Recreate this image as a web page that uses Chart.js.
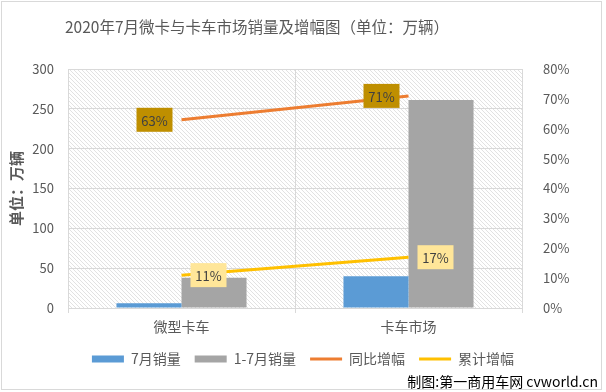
<!DOCTYPE html>
<html>
<head>
<meta charset="utf-8">
<script src="https://cdn.jsdelivr.net/npm/chart.js@4/dist/chart.umd.min.js"></script>
<style>
  html, body { margin: 0; padding: 0; background: #fff; }
  #wrap { width: 606px; height: 392px; }
</style>
</head>
<body>
<div id="wrap"><canvas id="chart" width="606" height="392"></canvas></div>
<script>
// 数据
const categories = ['微型卡车', '卡车市场'];
const julySales = [6, 40];
const ytdSales = [38, 261];
const yoyGrowth = [63, 71];
const ytdGrowth = [11, 17];
const leftTicks = [0, 50, 100, 150, 200, 250, 300];
const rightTicks = [0, 10, 20, 30, 40, 50, 60, 70, 80];

const FONT = "'Noto Sans CJK SC', 'Noto Sans', sans-serif";
const GREY_TEXT = '#595959';

// 斜线填充的绘图区
function makeHatch() {
  const c = document.createElement('canvas');
  c.width = 4; c.height = 4;
  const g = c.getContext('2d');
  g.fillStyle = '#ffffff';
  g.fillRect(0, 0, 4, 4);
  g.strokeStyle = '#e2e2e2';
  g.lineWidth = 1;
  g.beginPath();
  g.moveTo(-1, -1); g.lineTo(5, 5);
  g.moveTo(-1, 3); g.lineTo(1, 5);
  g.moveTo(3, -1); g.lineTo(5, 1);
  g.stroke();
  return g.createPattern(c, 'repeat');
}

const backgroundPlugin = {
  id: 'bg',
  beforeDraw(chart) {
    const { ctx, chartArea: a } = chart;
    ctx.save();
    ctx.fillStyle = '#ffffff';
    ctx.fillRect(0, 0, chart.width, chart.height);
    ctx.strokeStyle = '#d9d9d9';
    ctx.lineWidth = 1;
    ctx.strokeRect(1.5, 1.5, 600, 388);
    ctx.fillStyle = makeHatch();
    ctx.fillRect(a.left, a.top, a.right - a.left, a.bottom - a.top);
    ctx.restore();
  },
  afterDraw(chart) {
    const { ctx } = chart;
    ctx.save();
    ctx.fillStyle = GREY_TEXT;
    ctx.textBaseline = 'middle';
    ctx.textAlign = 'center';
    ctx.font = '15.5px ' + FONT;
    ctx.fillText('2020年7月微卡与卡车市场销量及增幅图（单位：万辆）', 257, 27);
    ctx.fillStyle = '#000000';
    ctx.textAlign = 'right';
    ctx.font = '14px ' + FONT;
    ctx.fillText('制图:第一商用车网 cvworld.cn', 598, 382);
    ctx.restore();
  }
};

// 折线数据标签
const labelPlugin = {
  id: 'pctLabels',
  afterDatasetsDraw(chart) {
    const { ctx } = chart;
    const specs = [
      { ds: 2, side: 'left', bg: '#bf8f00' },
      { ds: 3, side: 'right', bg: '#ffe699' }
    ];
    ctx.save();
    ctx.font = '13px ' + FONT;
    ctx.textAlign = 'center';
    ctx.textBaseline = 'middle';
    specs.forEach(s => {
      const meta = chart.getDatasetMeta(s.ds);
      const vals = chart.data.datasets[s.ds].data;
      meta.data.forEach((pt, i) => {
        const w = 36, h = 24;
        const x = s.side === 'left' ? pt.x - 9 - w : pt.x + 9;
        const y = pt.y - h / 2;
        ctx.fillStyle = s.bg;
        ctx.fillRect(x, y, w, h);
        ctx.fillStyle = '#404040';
        ctx.fillText(vals[i] + '%', x + w / 2, pt.y + 1);
      });
    });
    ctx.restore();
  }
};

new Chart(document.getElementById('chart'), {
  data: {
    labels: categories,
    datasets: [
      { type: 'bar', label: '7月销量', data: julySales, backgroundColor: '#5b9bd5', yAxisID: 'y', order: 2,
        categoryPercentage: 0.573, barPercentage: 1 },
      { type: 'bar', label: '1-7月销量', data: ytdSales, backgroundColor: '#a5a5a5', yAxisID: 'y', order: 2,
        categoryPercentage: 0.573, barPercentage: 1 },
      { type: 'line', label: '同比增幅', data: yoyGrowth, borderColor: '#ed7d31', backgroundColor: '#ed7d31',
        borderWidth: 3, pointRadius: 0, yAxisID: 'y1', order: 1 },
      { type: 'line', label: '累计增幅', data: ytdGrowth, borderColor: '#ffc000', backgroundColor: '#ffc000',
        borderWidth: 3, pointRadius: 0, yAxisID: 'y1', order: 1 }
    ]
  },
  options: {
    responsive: false,
    animation: false,
    layout: { padding: { top: 69, left: 0, right: 0, bottom: 16 } },
    plugins: {
      tooltip: { enabled: false },
      title: { display: false },
      legend: {
        position: 'bottom',
        labels: {
          usePointStyle: true,
          pointStyleWidth: 32,
          boxHeight: 7,
          padding: 14,
          color: GREY_TEXT,
          font: { family: FONT, size: 14 },
          sort: (a, b) => a.datasetIndex - b.datasetIndex,
          generateLabels(chart) {
            return chart.data.datasets.map((d, i) => {
              const isLine = d.type === 'line';
              return {
                text: d.label,
                fillStyle: d.backgroundColor,
                strokeStyle: d.borderColor || d.backgroundColor,
                lineWidth: isLine ? 3 : 0,
                pointStyle: isLine ? 'line' : 'rect',
                fontColor: GREY_TEXT,
                datasetIndex: i,
                hidden: false
              };
            });
          }
        }
      }
    },
    scales: {
      x: {
        offset: true,
        grid: { offset: true, color: '#d9d9d9', drawTicks: true, tickLength: 5 },
        border: { color: '#d9d9d9' },
        ticks: { color: GREY_TEXT, font: { family: FONT, size: 14 }, padding: 5 },
        afterFit: s => { s.height = 30; }
      },
      y: {
        position: 'left',
        min: 0, max: 300,
        afterBuildTicks: s => { s.ticks = leftTicks.map(v => ({ value: v })); },
        grid: { color: '#d9d9d9', drawTicks: false },
        border: { color: '#d9d9d9' },
        ticks: { color: GREY_TEXT, font: { family: FONT, size: 13 }, padding: 14 },
        title: { display: true, text: '单位：万辆', color: GREY_TEXT, font: { family: FONT, size: 15, weight: 'bold' }, padding: { top: 7, bottom: 0 } },
        afterFit: s => { s.width = 68; }
      },
      y1: {
        position: 'right',
        min: 0, max: 80,
        afterBuildTicks: s => { s.ticks = rightTicks.map(v => ({ value: v })); },
        grid: { display: false },
        border: { color: '#d9d9d9' },
        ticks: { color: GREY_TEXT, font: { family: FONT, size: 13 }, padding: 13, callback: v => v + '%' },
        afterFit: s => { s.width = 84; }
      }
    }
  },
  plugins: [backgroundPlugin, labelPlugin]
});
</script>
</body>
</html>
